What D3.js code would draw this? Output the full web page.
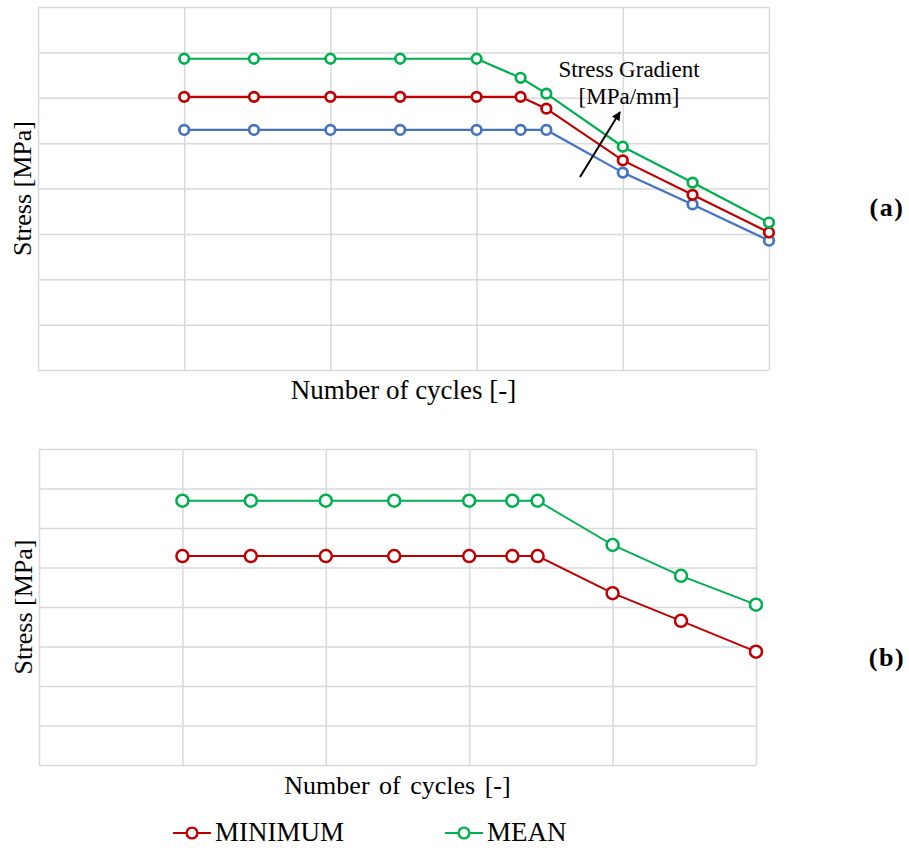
<!DOCTYPE html>
<html>
<head>
<meta charset="utf-8">
<script src="https://cdn.jsdelivr.net/npm/d3@7"></script>
<style>
  html, body { margin: 0; padding: 0; background: #fff; }
  svg { display: block; }
  text { font-family: "Liberation Serif", "Times New Roman", serif; fill: #000; }
</style>
</head>
<body>
<svg id="fig" width="909" height="850"></svg>
<script>
// Number of cycles at each evaluated point (log axis, no tick labels)
const cycles = [1e3, 3e3, 1e4, 3e4, 1e5, 2e5, 3e5, 1e6, 3e6, 1e7];
const cycleDecades = [1e2, 1e3, 1e4, 1e5, 1e6, 1e7];
const stressTicks = [0, 1, 2, 3, 4, 5, 6, 7, 8];

// Panel (a): three stress-gradient levels (arbitrary stress units)
const gradHighA = [6.86, 6.86, 6.86, 6.86, 6.86, 6.44, 6.09, 4.92, 4.13, 3.25];
const gradMidA  = [6.02, 6.02, 6.02, 6.02, 6.02, 6.02, 5.76, 4.62, 3.86, 3.03];
const gradLowA  = [5.29, 5.29, 5.29, 5.29, 5.29, 5.29, 5.29, 4.35, 3.65, 2.85];

// Panel (b): minimum and mean stress
const minimumB = [5.29, 5.29, 5.29, 5.29, 5.29, 5.29, 5.29, 4.35, 3.65, 2.87];
const meanB    = [6.69, 6.69, 6.69, 6.69, 6.69, 6.69, 6.69, 5.57, 4.79, 4.06];

const legendLabels = ["MINIMUM", "MEAN"];

const GREEN = "#00B050", RED = "#C00000", BLUE = "#4472C4", GRID = "#d9d9d9";

const svg = d3.select("#fig");

function panel(cfg) {
  const x = d3.scaleLog().domain([cycleDecades[0], cycleDecades[cycleDecades.length - 1]])
    .range([cfg.left, cfg.right]);
  const y = d3.scaleLinear().domain([0, 8]).range([cfg.bottom, cfg.top]);
  const g = svg.append("g");

  // horizontal gridlines
  g.append("g")
    .attr("transform", `translate(${cfg.left},0)`)
    .call(d3.axisLeft(y).tickValues(stressTicks).tickSize(-(cfg.right - cfg.left)).tickFormat(""))
    .call(a => a.select(".domain").remove())
    .call(a => a.selectAll("line").attr("stroke", GRID).attr("stroke-width", 1.5));

  // vertical gridlines at each decade
  g.append("g")
    .attr("transform", `translate(0,${cfg.bottom})`)
    .call(d3.axisBottom(x).tickValues(cycleDecades).tickSize(-(cfg.bottom - cfg.top)).tickFormat(""))
    .call(a => a.select(".domain").remove())
    .call(a => a.selectAll("line").attr("stroke", GRID).attr("stroke-width", 1.5));

  const line = d3.line().x((d, i) => x(cycles[i])).y(d => y(d));

  cfg.series.forEach(s => {
    g.append("path").datum(s.values)
      .attr("d", line).attr("fill", "none")
      .attr("stroke", s.color).attr("stroke-width", cfg.lw);
    g.selectAll(null).data(s.values).join("circle")
      .attr("cx", (d, i) => x(cycles[i])).attr("cy", d => y(d))
      .attr("r", cfg.r).attr("fill", "#fff")
      .attr("stroke", s.color).attr("stroke-width", cfg.mw);
  });

  // axis titles
  g.append("text")
    .attr("x", (cfg.left + cfg.right) / 2).attr("y", cfg.xTitleY)
    .attr("text-anchor", "middle").style("font-size", cfg.xTitleSize + "px")
    .style("word-spacing", cfg.wordSpacing + "px")
    .text("Number of cycles [-]");
  g.append("text")
    .attr("transform", `translate(${cfg.yTitleX},${(cfg.top + cfg.bottom) / 2}) rotate(-90)`)
    .attr("text-anchor", "middle").style("font-size", "26px")
    .text("Stress [MPa]");

  // panel letter
  g.append("text")
    .attr("x", 887).attr("y", cfg.letterY)
    .attr("text-anchor", "middle")
    .style("font-size", "26px").style("font-weight", "bold").style("letter-spacing", "1.5px")
    .text(cfg.letter);

  return { x, y, g };
}

const a = panel({
  left: 38, right: 769, top: 7, bottom: 370,
  lw: 2.2, r: 4.8, mw: 2.7, xTitleY: 399, xTitleSize: 27, wordSpacing: 0, yTitleX: 31,
  letter: "(a)", letterY: 216,
  series: [
    { values: gradLowA, color: BLUE },
    { values: gradMidA, color: RED },
    { values: gradHighA, color: GREEN }
  ]
});

// stress gradient annotation with arrow
svg.append("defs").append("marker")
  .attr("id", "head").attr("viewBox", "0 0 10 10")
  .attr("refX", 9).attr("refY", 5)
  .attr("markerWidth", 4.5).attr("markerHeight", 4.5)
  .attr("markerUnits", "strokeWidth").attr("orient", "auto")
  .append("path").attr("d", "M0,0 L10,5 L0,10 z").attr("fill", "#000");

a.g.append("line")
  .attr("x1", 580).attr("y1", 177).attr("x2", 620).attr("y2", 112)
  .attr("stroke", "#000").attr("stroke-width", 2).attr("marker-end", "url(#head)");

const note = a.g.append("text").attr("text-anchor", "middle").style("font-size", "23px");
note.append("tspan").attr("x", 629).attr("y", 77).text("Stress Gradient");
note.append("tspan").attr("x", 629).attr("y", 104).text("[MPa/mm]");

panel({
  left: 39, right: 756, top: 449, bottom: 765,
  lw: 1.9, r: 6, mw: 2.5, xTitleY: 794, xTitleSize: 26, wordSpacing: 3, yTitleX: 32,
  letter: "(b)", letterY: 666,
  series: [
    { values: minimumB, color: RED },
    { values: meanB, color: GREEN }
  ]
});

// legend
const legend = svg.append("g");
const legendItems = [
  { label: legendLabels[0], color: RED, x0: 173 },
  { label: legendLabels[1], color: GREEN, x0: 445 }
];
legendItems.forEach(it => {
  legend.append("line")
    .attr("x1", it.x0).attr("x2", it.x0 + 38).attr("y1", 833).attr("y2", 833)
    .attr("stroke", it.color).attr("stroke-width", 2);
  legend.append("circle")
    .attr("cx", it.x0 + 19).attr("cy", 833).attr("r", 5.4)
    .attr("fill", "#fff").attr("stroke", it.color).attr("stroke-width", 2.4);
  legend.append("text")
    .attr("x", it.x0 + 42).attr("y", 841)
    .style("font-size", "27px").text(it.label);
});
</script>
</body>
</html>
